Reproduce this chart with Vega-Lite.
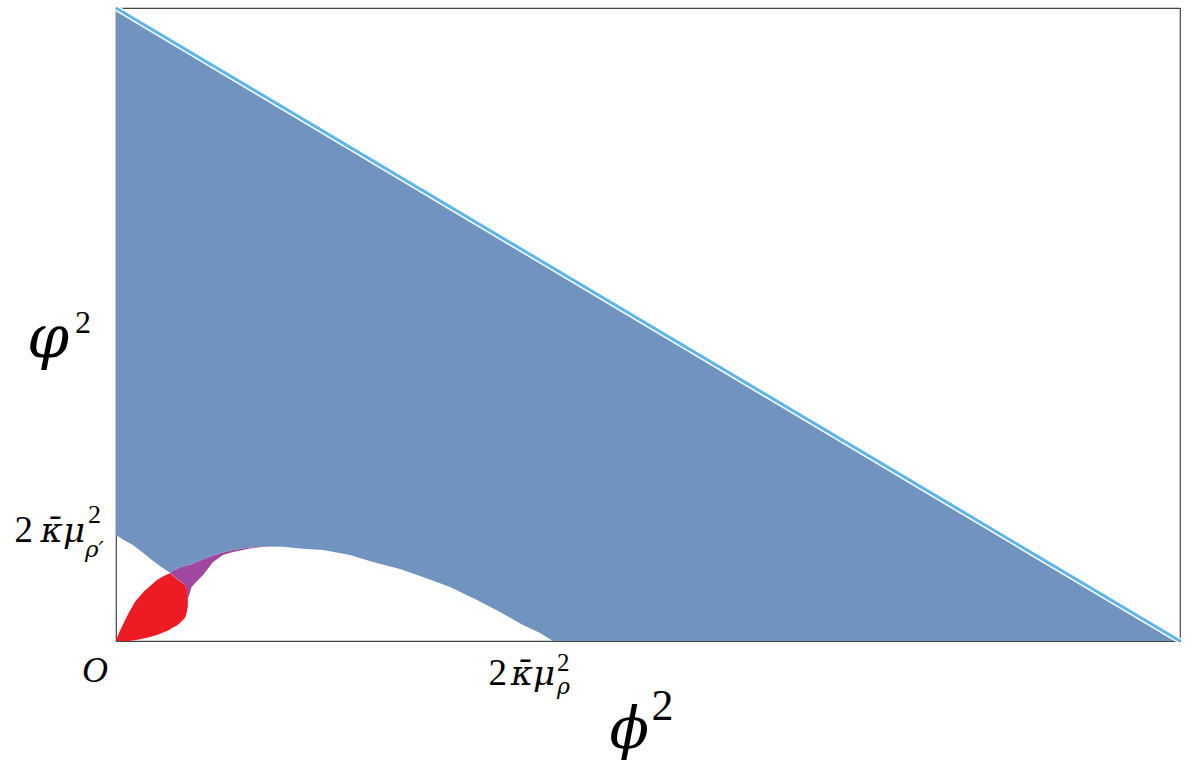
{
  "$schema": "https://vega.github.io/schema/vega-lite/v6.json",
  "autosize": "none",
  "width": 1064,
  "height": 633,
  "padding": {"left": 116, "top": 8, "right": 13, "bottom": 125},
  "background": "white",
  "config": {"view": {"stroke": "#444", "strokeWidth": 1.2}},
  "datasets": {
    "blue": [
      {"x": 0, "top": 10, "bot": 1.673},
      {"x": 0.075, "top": 9.925, "bot": 1.594},
      {"x": 0.169, "top": 9.831, "bot": 1.504},
      {"x": 0.263, "top": 9.737, "bot": 1.384},
      {"x": 0.357, "top": 9.643, "bot": 1.252},
      {"x": 0.451, "top": 9.549, "bot": 1.14},
      {"x": 0.508, "top": 9.492, "bot": 1.08},
      {"x": 0.555, "top": 9.445, "bot": 1.125},
      {"x": 0.602, "top": 9.398, "bot": 1.16},
      {"x": 0.648, "top": 9.352, "bot": 1.184},
      {"x": 0.677, "top": 9.323, "bot": 1.2},
      {"x": 0.714, "top": 9.286, "bot": 1.215},
      {"x": 0.771, "top": 9.229, "bot": 1.255},
      {"x": 0.818, "top": 9.182, "bot": 1.287},
      {"x": 0.855, "top": 9.145, "bot": 1.31},
      {"x": 0.912, "top": 9.088, "bot": 1.35},
      {"x": 1.006, "top": 8.994, "bot": 1.397},
      {"x": 1.1, "top": 8.9, "bot": 1.436},
      {"x": 1.259, "top": 8.741, "bot": 1.479},
      {"x": 1.382, "top": 8.618, "bot": 1.494},
      {"x": 1.57, "top": 8.43, "bot": 1.488},
      {"x": 1.729, "top": 8.271, "bot": 1.463},
      {"x": 1.945, "top": 8.055, "bot": 1.436},
      {"x": 2.199, "top": 7.801, "bot": 1.358},
      {"x": 2.415, "top": 7.585, "bot": 1.247},
      {"x": 2.669, "top": 7.331, "bot": 1.137},
      {"x": 2.885, "top": 7.115, "bot": 1.01},
      {"x": 3.139, "top": 6.861, "bot": 0.852},
      {"x": 3.393, "top": 6.607, "bot": 0.647},
      {"x": 3.609, "top": 6.391, "bot": 0.458},
      {"x": 3.825, "top": 6.175, "bot": 0.253},
      {"x": 3.985, "top": 6.015, "bot": 0.126},
      {"x": 4.107, "top": 5.893, "bot": 0},
      {"x": 10, "top": 0, "bot": 0}
    ],
    "purple": [
      {"x": 0.508, "top": 1.08, "bot": 1.069},
      {"x": 0.555, "top": 1.125, "bot": 1.007},
      {"x": 0.602, "top": 1.16, "bot": 0.947},
      {"x": 0.648, "top": 1.184, "bot": 0.884},
      {"x": 0.672, "top": 1.196, "bot": 0.679},
      {"x": 0.681, "top": 1.2, "bot": 0.695},
      {"x": 0.711, "top": 1.213, "bot": 0.852},
      {"x": 0.771, "top": 1.255, "bot": 0.963},
      {"x": 0.818, "top": 1.287, "bot": 1.042},
      {"x": 0.855, "top": 1.31, "bot": 1.121},
      {"x": 0.912, "top": 1.35, "bot": 1.247},
      {"x": 1.006, "top": 1.397, "bot": 1.358},
      {"x": 1.1, "top": 1.436, "bot": 1.405},
      {"x": 1.259, "top": 1.479, "bot": 1.463},
      {"x": 1.382, "top": 1.496, "bot": 1.489},
      {"x": 1.466, "top": 1.494, "bot": 1.494}
    ],
    "red": [
      {"x": 0.005, "top": 0.032, "bot": 0},
      {"x": 0.019, "top": 0.095, "bot": 0},
      {"x": 0.056, "top": 0.229, "bot": 0},
      {"x": 0.119, "top": 0.442, "bot": 0},
      {"x": 0.179, "top": 0.62, "bot": 0.01},
      {"x": 0.26, "top": 0.778, "bot": 0.039},
      {"x": 0.32, "top": 0.868, "bot": 0.063},
      {"x": 0.385, "top": 0.963, "bot": 0.095},
      {"x": 0.432, "top": 1.01, "bot": 0.126},
      {"x": 0.479, "top": 1.05, "bot": 0.158},
      {"x": 0.508, "top": 1.069, "bot": 0.182},
      {"x": 0.526, "top": 1.043, "bot": 0.205},
      {"x": 0.573, "top": 0.979, "bot": 0.245},
      {"x": 0.611, "top": 0.931, "bot": 0.3},
      {"x": 0.648, "top": 0.884, "bot": 0.363},
      {"x": 0.664, "top": 0.805, "bot": 0.442},
      {"x": 0.675, "top": 0.679, "bot": 0.552}
    ],
    "diag": [{"x": 0, "y": 10}, {"x": 10, "y": 0}]
  },
  "layer": [
    {
      "data": {"name": "blue"},
      "mark": {"type": "area", "color": "#7093BF", "interpolate": "linear"},
      "encoding": {
        "x": {"field": "x", "type": "quantitative", "scale": {"domain": [0, 10], "nice": false, "zero": false}, "axis": null},
        "y": {"field": "top", "type": "quantitative", "scale": {"domain": [0, 10], "nice": false, "zero": false}, "axis": null},
        "y2": {"field": "bot"}
      }
    },
    {
      "data": {"name": "purple"},
      "mark": {"type": "area", "color": "#A0489F", "interpolate": "linear"},
      "encoding": {
        "x": {"field": "x", "type": "quantitative"},
        "y": {"field": "top", "type": "quantitative"},
        "y2": {"field": "bot"}
      }
    },
    {
      "data": {"name": "red"},
      "mark": {"type": "area", "color": "#ED1C24", "interpolate": "linear"},
      "encoding": {
        "x": {"field": "x", "type": "quantitative"},
        "y": {"field": "top", "type": "quantitative"},
        "y2": {"field": "bot"}
      }
    },
    {
      "data": {"name": "diag"},
      "mark": {"type": "line", "color": "white", "strokeWidth": 6},
      "encoding": {
        "x": {"field": "x", "type": "quantitative"},
        "y": {"field": "y", "type": "quantitative"}
      }
    },
    {
      "data": {"name": "diag"},
      "mark": {"type": "line", "color": "#5DB6E6", "strokeWidth": 3},
      "encoding": {
        "x": {"field": "x", "type": "quantitative"},
        "y": {"field": "y", "type": "quantitative"}
      }
    },
    {
      "data": {"values": [{"x": 3.92, "y": 0, "t": "2"}]},
      "mark": {"type": "text", "align": "right", "baseline": "alphabetic", "dx": -26, "dy": 44, "fontSize": 37, "font": "Liberation Serif", "color": "black"},
      "encoding": {"x": {"field": "x", "type": "quantitative"}, "y": {"field": "y", "type": "quantitative"}, "text": {"field": "t"}}
    },
    {
      "data": {"values": [{"x": 3.92, "y": 0, "t": "κ̄μ"}]},
      "mark": {"type": "text", "align": "right", "baseline": "alphabetic", "dx": 22, "dy": 44, "fontSize": 34, "font": "DejaVu Serif", "fontStyle": "italic", "color": "black"},
      "encoding": {"x": {"field": "x", "type": "quantitative"}, "y": {"field": "y", "type": "quantitative"}, "text": {"field": "t"}}
    },
    {
      "data": {"values": [{"x": 3.92, "y": 0, "t": "2"}]},
      "mark": {"type": "text", "align": "left", "baseline": "alphabetic", "dx": 24, "dy": 30, "fontSize": 25, "font": "Liberation Serif", "color": "black"},
      "encoding": {"x": {"field": "x", "type": "quantitative"}, "y": {"field": "y", "type": "quantitative"}, "text": {"field": "t"}}
    },
    {
      "data": {"values": [{"x": 3.92, "y": 0, "t": "ρ"}]},
      "mark": {"type": "text", "align": "left", "baseline": "alphabetic", "dx": 24, "dy": 53, "fontSize": 22, "font": "DejaVu Serif", "fontStyle": "italic", "color": "black"},
      "encoding": {"x": {"field": "x", "type": "quantitative"}, "y": {"field": "y", "type": "quantitative"}, "text": {"field": "t"}}
    },
    {
      "data": {"values": [{"x": 0, "y": 0, "t": "O"}]},
      "mark": {"type": "text", "align": "right", "baseline": "alphabetic", "dx": -8, "dy": 41, "fontSize": 36, "font": "Liberation Serif", "fontStyle": "italic", "color": "black"},
      "encoding": {"x": {"field": "x", "type": "quantitative"}, "y": {"field": "y", "type": "quantitative"}, "text": {"field": "t"}}
    },
    {
      "data": {"values": [{"x": 0, "y": 1.73, "t": "2"}]},
      "mark": {"type": "text", "align": "right", "baseline": "alphabetic", "dx": -83, "dy": 11, "fontSize": 37, "font": "Liberation Serif", "color": "black"},
      "encoding": {"x": {"field": "x", "type": "quantitative"}, "y": {"field": "y", "type": "quantitative"}, "text": {"field": "t"}}
    },
    {
      "data": {"values": [{"x": 0, "y": 1.73, "t": "κ̄μ"}]},
      "mark": {"type": "text", "align": "right", "baseline": "alphabetic", "dx": -31, "dy": 11, "fontSize": 34, "font": "DejaVu Serif", "fontStyle": "italic", "color": "black"},
      "encoding": {"x": {"field": "x", "type": "quantitative"}, "y": {"field": "y", "type": "quantitative"}, "text": {"field": "t"}}
    },
    {
      "data": {"values": [{"x": 0, "y": 1.73, "t": "2"}]},
      "mark": {"type": "text", "align": "left", "baseline": "alphabetic", "dx": -28, "dy": -8, "fontSize": 26, "font": "Liberation Serif", "color": "black"},
      "encoding": {"x": {"field": "x", "type": "quantitative"}, "y": {"field": "y", "type": "quantitative"}, "text": {"field": "t"}}
    },
    {
      "data": {"values": [{"x": 0, "y": 1.73, "t": "ρ′"}]},
      "mark": {"type": "text", "align": "left", "baseline": "alphabetic", "dx": -31, "dy": 26, "fontSize": 23, "font": "DejaVu Serif", "fontStyle": "italic", "color": "black"},
      "encoding": {"x": {"field": "x", "type": "quantitative"}, "y": {"field": "y", "type": "quantitative"}, "text": {"field": "t"}}
    },
    {
      "data": {"values": [{"x": 0, "y": 4.67, "t": "φ"}]},
      "mark": {"type": "text", "align": "left", "baseline": "alphabetic", "dx": -89, "dy": 13, "fontSize": 60, "font": "DejaVu Serif", "fontStyle": "italic", "color": "black"},
      "encoding": {"x": {"field": "x", "type": "quantitative"}, "y": {"field": "y", "type": "quantitative"}, "text": {"field": "t"}}
    },
    {
      "data": {"values": [{"x": 0, "y": 4.67, "t": "2"}]},
      "mark": {"type": "text", "align": "left", "baseline": "alphabetic", "dx": -41, "dy": -12, "fontSize": 32, "font": "Liberation Serif", "color": "black"},
      "encoding": {"x": {"field": "x", "type": "quantitative"}, "y": {"field": "y", "type": "quantitative"}, "text": {"field": "t"}}
    },
    {
      "data": {"values": [{"x": 4.92, "y": 0, "t": "ϕ"}]},
      "mark": {"type": "text", "align": "left", "baseline": "alphabetic", "dx": -30, "dy": 107, "fontSize": 58, "font": "DejaVu Serif", "fontStyle": "italic", "color": "black"},
      "encoding": {"x": {"field": "x", "type": "quantitative"}, "y": {"field": "y", "type": "quantitative"}, "text": {"field": "t"}}
    },
    {
      "data": {"values": [{"x": 4.92, "y": 0, "t": "2"}]},
      "mark": {"type": "text", "align": "left", "baseline": "alphabetic", "dx": 12, "dy": 79, "fontSize": 44, "font": "Liberation Serif", "color": "black"},
      "encoding": {"x": {"field": "x", "type": "quantitative"}, "y": {"field": "y", "type": "quantitative"}, "text": {"field": "t"}}
    }
  ]
}
